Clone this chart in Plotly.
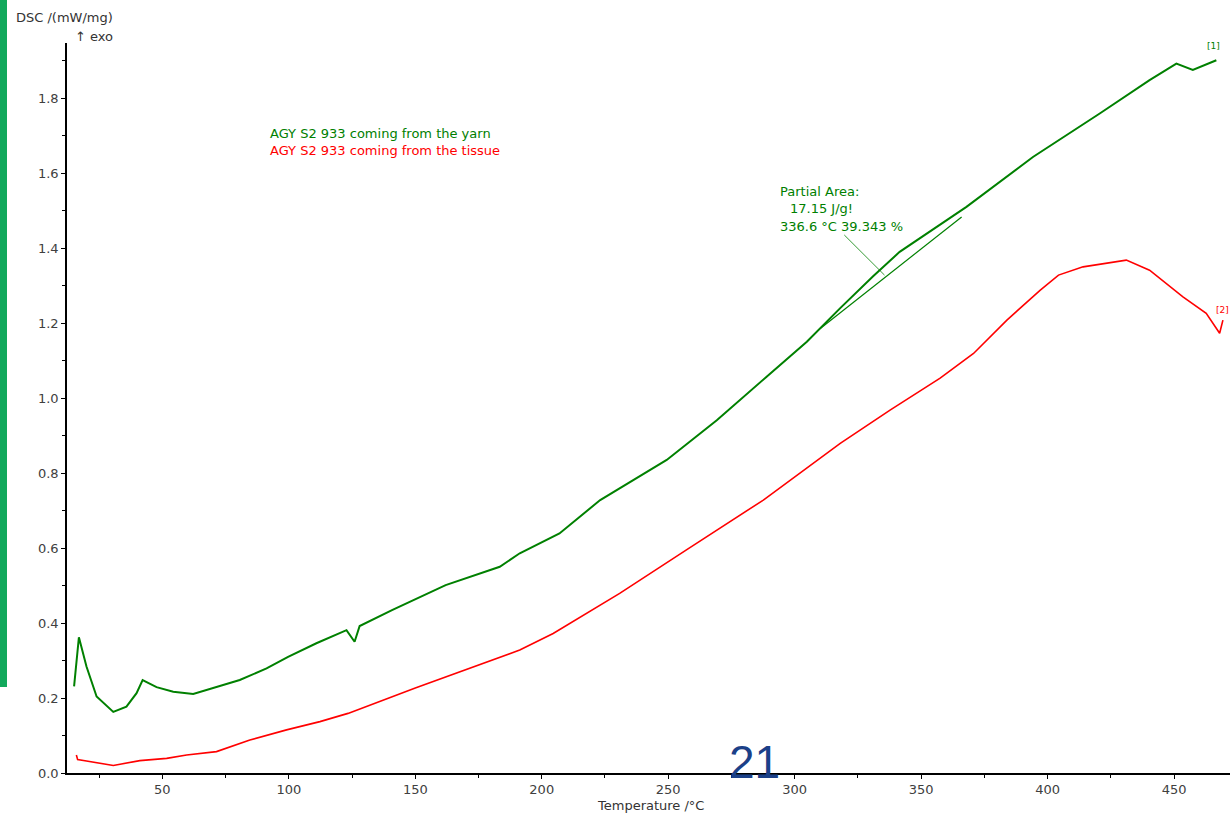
import plotly.graph_objects as go

# ---- data ----
yarn_T = [15.1, 17.0, 20.0, 24.0, 30.6, 35.8, 39.8, 42.2, 47.7, 54.3, 62.2, 70.1, 80.6, 91.2,
          99.7, 110.9, 122.8, 126.0, 128.0, 141.0, 162.0, 183.4, 191.3, 207.0, 223.1, 249.4,
          269.2, 288.9, 304.8, 318.0, 331.0, 341.5, 367.9, 394.2, 420.6, 440.3, 450.9, 457.4, 466.7]
yarn_v = [0.231, 0.362, 0.284, 0.204, 0.163, 0.177, 0.213, 0.248, 0.229, 0.217, 0.211, 0.226, 0.248, 0.279,
          0.310, 0.346, 0.381, 0.350, 0.392, 0.435, 0.501, 0.550, 0.586, 0.639, 0.728, 0.835,
          0.941, 1.057, 1.150, 1.240, 1.325, 1.390, 1.510, 1.643, 1.759, 1.848, 1.892, 1.875, 1.901]

tissue_T = [16.0, 16.5, 20.0, 25.3, 30.6, 41.1, 51.7, 59.6, 71.4, 84.6, 99.1, 112.3, 123.4, 150.0,
            175.0, 191.3, 204.5, 230.8, 257.2, 287.6, 318.0, 337.7, 357.5, 370.7, 383.9, 397.1,
            404.3, 414.0, 431.1, 440.3, 453.5, 462.7, 468.0, 469.3]
tissue_v = [0.048, 0.036, 0.032, 0.026, 0.020, 0.033, 0.039, 0.048, 0.057, 0.088, 0.115, 0.137, 0.159, 0.227,
            0.288, 0.328, 0.372, 0.479, 0.595, 0.728, 0.879, 0.968, 1.053, 1.119, 1.208, 1.288,
            1.328, 1.350, 1.368, 1.341, 1.270, 1.226, 1.173, 1.208]

baseline_T = [310.0, 366.0]
baseline_v = [1.185, 1.483]
leader_T = [319.6, 335.5]
leader_v = [1.435, 1.328]

x_ticks = [50, 100, 150, 200, 250, 300, 350, 400, 450]
y_ticks = [0.0, 0.2, 0.4, 0.6, 0.8, 1.0, 1.2, 1.4, 1.6, 1.8]
y_labels = ["0.0", "0.2", "0.4", "0.6", "0.8", "1.0", "1.2", "1.4", "1.6", "1.8"]

GREEN = "#008000"
RED = "#ff0000"
FONT = "DejaVu Sans, sans-serif"
SLIDE_FONT = "Arial, Liberation Sans, sans-serif"

fig = go.Figure()
fig.add_trace(go.Scatter(x=yarn_T, y=yarn_v, mode="lines", line=dict(color=GREEN, width=2),
                         name="AGY S2 933 coming from the yarn", showlegend=False))
fig.add_trace(go.Scatter(x=tissue_T, y=tissue_v, mode="lines", line=dict(color=RED, width=1.6),
                         name="AGY S2 933 coming from the tissue", showlegend=False))
fig.add_trace(go.Scatter(x=baseline_T, y=baseline_v, mode="lines", line=dict(color=GREEN, width=1.2),
                         showlegend=False, hoverinfo="skip"))
fig.add_trace(go.Scatter(x=leader_T, y=leader_v, mode="lines", line=dict(color=GREEN, width=0.8),
                         showlegend=False, hoverinfo="skip"))

W, H = 1230, 815
L, R, T, B = 67, 0, 43, 42
pw, ph = W - L - R, H - T - B

def px(x):
    return (x - L) / pw

def py(y):
    return (H - B - y) / ph

ann = []
def add_text(text, x, y, color="#333333", size=13, xanchor="left", yanchor="middle", family=FONT):
    ann.append(dict(text=text, x=px(x), y=py(y), xref="paper", yref="paper", showarrow=False,
                    xanchor=xanchor, yanchor=yanchor, font=dict(family=family, size=size, color=color)))

add_text("DSC /(mW/mg)", 14, 17, size=13)
add_text("↑ exo", 73, 36, size=13)
add_text("Temperature /°C", 650, 805, size=13, xanchor="center")
add_text("AGY S2 933 coming from the yarn", 268, 133, color=GREEN, size=13)
add_text("AGY S2 933 coming from the tissue", 268, 151, color=RED, size=13)
add_text("Partial Area:", 778, 191, color=GREEN, size=13)
add_text("17.15 J/g!", 788, 209, color=GREEN, size=13)
add_text("336.6 °C 39.343 %", 778, 227, color=GREEN, size=13)
add_text("[1]", 1213, 46, color=GREEN, size=9, xanchor="center")
add_text("[2]", 1222, 310, color=RED, size=9, xanchor="center")
add_text("21", 755, 762, color="#1b4088", size=46, xanchor="center", family=SLIDE_FONT)

fig.update_layout(
    width=W, height=H,
    margin=dict(l=L, r=R, t=T, b=B, pad=0),
    paper_bgcolor="white", plot_bgcolor="white",
    font=dict(family=FONT, size=13, color="#404040"),
    annotations=ann,
    shapes=[dict(type="rect", xref="paper", yref="paper",
                 x0=px(0), x1=px(7), y0=py(687), y1=py(0),
                 fillcolor="#12a95c", line=dict(width=0), layer="above")],
)
fig.update_xaxes(range=[12.3, 472.1], tickvals=x_ticks, ticks="outside", ticklen=4, tickwidth=1,
                 tickcolor="black", showline=True, linecolor="black", linewidth=1.5,
                 showgrid=False, zeroline=False,
                 minor=dict(dtick=25, tick0=0, ticks="outside", ticklen=3, tickcolor="black", showgrid=False),
                 tickfont=dict(size=13, color="#404040"))
fig.update_yaxes(range=[0, 1.947], tickvals=y_ticks, ticktext=y_labels, ticks="outside", ticklen=4,
                 tickwidth=1, tickcolor="black", showline=True, linecolor="black", linewidth=1.5,
                 showgrid=False, zeroline=False,
                 minor=dict(dtick=0.1, tick0=0, ticks="outside", ticklen=3, tickcolor="black", showgrid=False),
                 tickfont=dict(size=13, color="#404040"))

fig.write_html("out.html")
